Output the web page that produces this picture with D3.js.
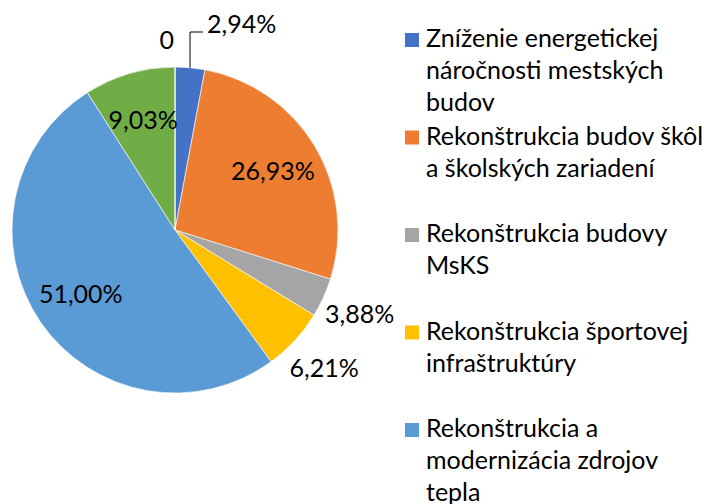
<!DOCTYPE html>
<html>
<head>
<meta charset="utf-8">
<script src="https://cdn.jsdelivr.net/npm/d3@7"></script>
<style>
  body { margin: 0; background: #fff; }
  svg { display: block; font-family: Lato, 'Open Sans', sans-serif; }
</style>
</head>
<body>
<svg id="chart"></svg>
<script>
const width = 704,
	height = 504,
	cx = 175,
	cy = 230,
	radius = 163;

// slice order clockwise from 12 o'clock
const values = [ 2.94, 26.93, 3.88, 6.21, 51.0, 9.03, 0 ];
const labels = [ '2,94%', '26,93%', '3,88%', '6,21%', '51,00%', '9,03%', '0' ];
const colors = [ '#4472C4', '#ED7D31', '#A5A5A5', '#FFC000', '#5B9BD5', '#70AD47', '#264478' ];
// only the first five legend entries fit in the picture
const legendNames = [
	'Zníženie energetickej náročnosti mestských budov',
	'Rekonštrukcia budov škôl a školských zariadení',
	'Rekonštrukcia budovy MsKS',
	'Rekonštrukcia športovej infraštruktúry',
	'Rekonštrukcia a modernizácia zdrojov tepla'
];
// where each label sits: inside the slice, outside it, or on a leader line
const labelPlace = [ 'leader', 'in', 'out', 'out', 'in', 'in', 'zero' ];

const svg = d3.select('#chart').attr('width', width).attr('height', height);

const pie = d3.pie().sort(null).value((d) => d);
const arcs = pie(values);
const arc = d3.arc().innerRadius(0).outerRadius(radius);
const labelArc = d3.arc().innerRadius(radius * 0.7).outerRadius(radius * 0.7);
const outArc = d3.arc().innerRadius(radius + 40).outerRadius(radius + 40);
const edgeArc = d3.arc().innerRadius(radius).outerRadius(radius);

const g = svg.append('g').attr('transform', 'translate(' + cx + ',' + cy + ')');

g
	.selectAll('path')
	.data(arcs)
	.enter()
	.append('path')
	.attr('d', arc)
	.attr('fill', (d, i) => colors[i])
	.attr('stroke', '#fff')
	.attr('stroke-width', 0.6);

const fontSize = 25;

arcs.forEach((d, i) => {
	let place = labelPlace[i];
	if (place === 'in' || place === 'out') {
		let p = (place === 'in' ? labelArc : outArc).centroid(d);
		g
			.append('text')
			.attr('x', p[0])
			.attr('y', p[1])
			.attr('dy', '0.36em')
			.attr('text-anchor', 'middle')
			.attr('font-size', fontSize)
			.attr('fill', '#000')
			.text(labels[i]);
	} else if (place === 'leader') {
		let p = edgeArc.centroid(d);
		let top = -radius - 35;
		g
			.append('path')
			.attr('d', 'M' + p[0] + ',' + p[1] + 'V' + top + 'H' + (p[0] + 13))
			.attr('fill', 'none')
			.attr('stroke', '#000')
			.attr('stroke-width', 1);
		g
			.append('text')
			.attr('x', p[0] + 17)
			.attr('y', top + 1)
			.attr('font-size', fontSize)
			.text(labels[i]);
	} else {
		let p = d3.arc().innerRadius(radius + 24).outerRadius(radius + 24).centroid(d);
		g
			.append('text')
			.attr('x', p[0] - 1)
			.attr('y', p[1] - 3)
			.attr('dy', '0.36em')
			.attr('text-anchor', 'end')
			.attr('font-size', fontSize)
			.text(labels[i]);
	}
});

// legend
const legendX = 405,
	legendY = 47,
	itemStep = 97.5,
	lineHeight = 32,
	maxTextWidth = 280;

legendNames.forEach((name, i) => {
	let y = legendY + i * itemStep;
	svg
		.append('rect')
		.attr('x', legendX)
		.attr('y', y - 14)
		.attr('width', 14)
		.attr('height', 14)
		.attr('fill', colors[i]);
	let text = svg
		.append('text')
		.attr('x', legendX + 21)
		.attr('y', y)
		.attr('font-size', fontSize)
		.attr('fill', '#000');
	let words = name.split(' ');
	let line = [];
	let tspan = text.append('tspan').attr('x', legendX + 21).attr('y', y);
	let lineNo = 0;
	words.forEach((w) => {
		line.push(w);
		tspan.text(line.join(' '));
		if (tspan.node().getComputedTextLength() > maxTextWidth && line.length > 1) {
			line.pop();
			tspan.text(line.join(' '));
			line = [ w ];
			lineNo++;
			tspan = text.append('tspan').attr('x', legendX + 21).attr('y', y + lineNo * lineHeight).text(w);
		}
	});
});
</script>
</body>
</html>
